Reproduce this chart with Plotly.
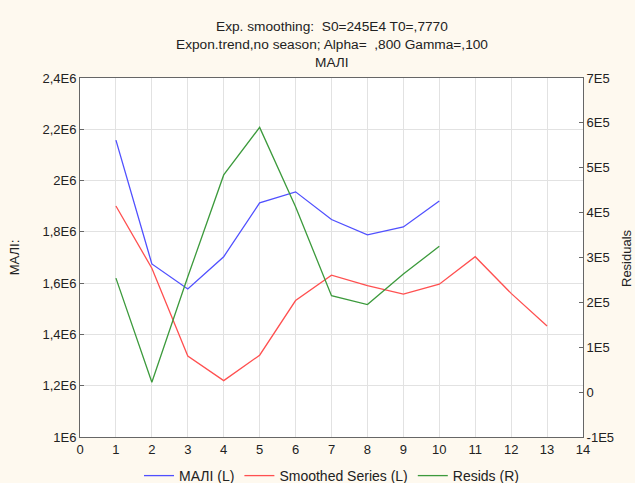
import plotly.graph_objects as go

x_mali = [1, 2, 3, 4, 5, 6, 7, 8, 9, 10]
mali = [2.158e6, 1.675e6, 1.577e6, 1.703e6, 1.913e6, 1.956e6, 1.848e6, 1.788e6, 1.819e6, 1.920e6]

x_smooth = [1, 2, 3, 4, 5, 6, 7, 8, 9, 10, 11, 12, 13]
smoothed = [1.901e6, 1.658e6, 1.316e6, 1.220e6, 1.319e6, 1.532e6, 1.631e6, 1.590e6,
            1.557e6, 1.596e6, 1.703e6, 1.560e6, 1.433e6]

x_resid = [1, 2, 3, 4, 5, 6, 7, 8, 9, 10]
resids = [2.54e5, 0.22e5, 2.57e5, 4.84e5, 5.90e5, 4.13e5, 2.15e5, 1.95e5, 2.63e5, 3.25e5]

left_tickvals = [1.0e6, 1.2e6, 1.4e6, 1.6e6, 1.8e6, 2.0e6, 2.2e6, 2.4e6]
left_ticktext = ["1E6", "1,2E6", "1,4E6", "1,6E6", "1,8E6", "2E6", "2,2E6", "2,4E6"]
right_tickvals = [-1e5, 0, 1e5, 2e5, 3e5, 4e5, 5e5, 6e5, 7e5]
right_ticktext = ["-1E5", "0", "1E5", "2E5", "3E5", "4E5", "5E5", "6E5", "7E5"]

title_lines = ["Exp. smoothing:  S0=245E4 T0=,7770",
               "Expon.trend,no season; Alpha=  ,800 Gamma=,100",
               "МАЛІ"]

BG = "#fef9ef"
TXT = "#222222"
AX = "#666666"
GRID = "#e2e2e2"
FS = 13

W, H = 635, 483
L, R, T, B = 80, 52, 78, 46
PH = H - T - B
PW = W - L - R

def py(pix):
    return (H - B - pix) / PH

def px(pix):
    return (pix - L) / PW

fig = go.Figure()
fig.add_trace(go.Scatter(x=x_mali, y=mali, mode="lines", name="МАЛІ (L)",
                         line=dict(color="#5050ff", width=1.3)))
fig.add_trace(go.Scatter(x=x_smooth, y=smoothed, mode="lines", name="Smoothed Series (L)",
                         line=dict(color="#ff5050", width=1.3)))
fig.add_trace(go.Scatter(x=x_resid, y=resids, mode="lines", name="Resids (R)", yaxis="y2",
                         line=dict(color="#3c9a3c", width=1.3)))

for txt, ypix in zip(title_lines, [27, 44.5, 62]):
    fig.add_annotation(text=txt, xref="paper", yref="paper", x=0.5, y=py(ypix),
                       xanchor="center", yanchor="middle", showarrow=False,
                       font=dict(size=13.7, color=TXT))

fig.add_annotation(text="Residuals", xref="paper", yref="paper", x=px(626), y=py(258),
                   xanchor="center", yanchor="middle", showarrow=False, textangle=-90,
                   font=dict(size=FS, color=TXT))

fig.update_layout(
    width=W, height=H,
    paper_bgcolor=BG, plot_bgcolor="white",
    margin=dict(l=L, r=R, t=T, b=B, autoexpand=False),
    font=dict(family="Liberation Sans, Arial, sans-serif", size=FS, color=TXT),
    xaxis=dict(range=[0, 14], tickvals=list(range(0, 15)), showgrid=True, gridcolor=GRID,
               showline=True, linecolor=AX, linewidth=1, mirror=True, zeroline=False,
               ticks="", tickfont=dict(size=FS), automargin=False),
    yaxis=dict(range=[1.0e6, 2.4e6], tickvals=left_tickvals, ticktext=left_ticktext,
               showgrid=True, gridcolor=GRID, showline=True, linecolor=AX, linewidth=1,
               mirror=True, zeroline=False, ticks="inside", ticklen=4, tickcolor=AX,
               tickfont=dict(size=FS), automargin=False,
               title=dict(text="МАЛІ:", standoff=19, font=dict(size=FS))),
    yaxis2=dict(range=[-1e5, 7e5], tickvals=right_tickvals, ticktext=right_ticktext,
                overlaying="y", side="right", showgrid=False, showline=True, linecolor=AX,
                linewidth=1, zeroline=False, ticks="inside", ticklen=4, tickcolor=AX,
                tickfont=dict(size=FS), automargin=False),
    legend=dict(orientation="h", x=0.5, xanchor="center", y=py(476), yanchor="middle",
                bgcolor="rgba(0,0,0,0)", font=dict(size=14), itemwidth=30,
                tracegroupgap=0),
    showlegend=True,
)

fig.write_html("out.html", config={"displayModeBar": False},
               post_script="document.body.style.margin='0';document.body.style.overflow='hidden';")
